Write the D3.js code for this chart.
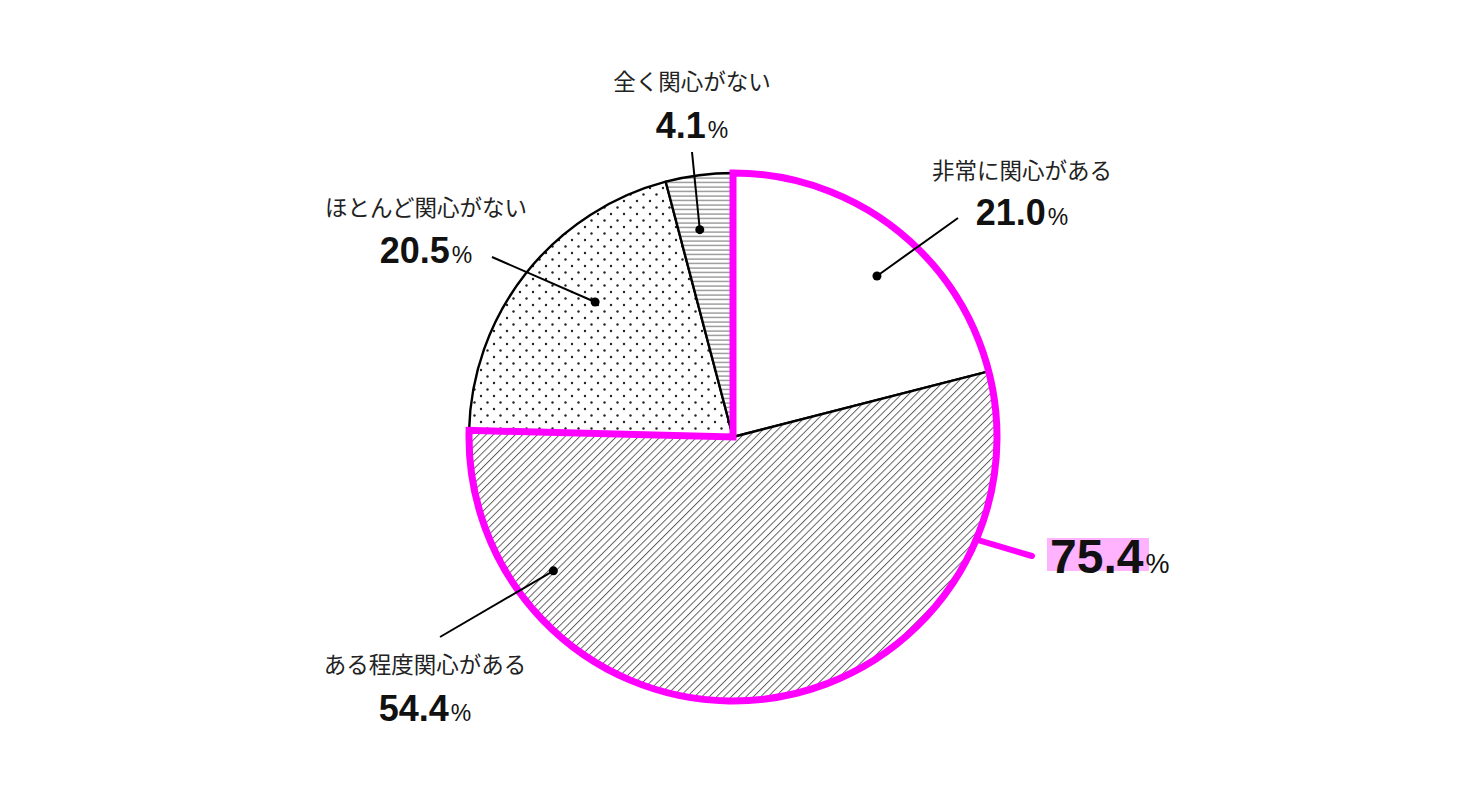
<!DOCTYPE html>
<html><head><meta charset="utf-8">
<script src="https://cdn.jsdelivr.net/npm/d3@7"></script>
<style>html,body{margin:0;padding:0;background:#fff;}</style>
</head><body>
<svg id="c" width="1480" height="796"></svg>
<script>
// ---- data ----
const categories = ["非常に関心がある", "ある程度関心がある", "ほとんど関心がない", "全く関心がない"];
const values = [21.0, 54.4, 20.5, 4.1];
const highlightLabel = "75.4"; // 非常に + ある程度
const highlightCount = 2;

// ---- layout ----
const W = 1480, H = 796;
const cx = 733, cy = 437, R = 264;
const patterns = ["none", "hatch", "dots", "hlines"];
// dot anchor (angle deg, radius) inside each slice, leader start, label center
const labelLayout = [
  {dotA: 41.8, dotR: 216, lx: 958, ly: 218, tx: 1022, ty1: 179, ty2: 225},
  {dotA: 233.3, dotR: 224, lx: 440, ly: 637, tx: 425, ty1: 673, ty2: 721},
  {dotA: 314.4, dotR: 193, lx: 492, ly: 257, tx: 426, ty1: 216, ty2: 263},
  {dotA: 350.9, dotR: 210, lx: 692, ly: 152, tx: 692, ty1: 90, ty2: 138}
];

const svg = d3.select("#c");
const defs = svg.append("defs");
// diagonal hatch
const ph = defs.append("pattern").attr("id","hatch").attr("patternUnits","userSpaceOnUse")
  .attr("width",5.2).attr("height",5.2).attr("patternTransform","rotate(45)");
ph.append("rect").attr("width",5.2).attr("height",5.2).attr("fill","#fff");
ph.append("line").attr("x1",0.5).attr("y1",0).attr("x2",0.5).attr("y2",5.2).attr("stroke","#555").attr("stroke-width",0.9);
// dots
const pd = defs.append("pattern").attr("id","dots").attr("patternUnits","userSpaceOnUse")
  .attr("width",13).attr("height",13).attr("x",cx).attr("y",cy);
pd.append("rect").attr("width",13).attr("height",13).attr("fill","#fff");
pd.append("circle").attr("cx",3).attr("cy",3).attr("r",1.2).attr("fill","#222");
pd.append("circle").attr("cx",9.5).attr("cy",9.5).attr("r",1.2).attr("fill","#222");
// horizontal lines
const pl = defs.append("pattern").attr("id","hlines").attr("patternUnits","userSpaceOnUse")
  .attr("width",10).attr("height",4.5);
pl.append("rect").attr("width",10).attr("height",4.5).attr("fill","#fff");
pl.append("line").attr("x1",0).attr("y1",2).attr("x2",10).attr("y2",2).attr("stroke","#777").attr("stroke-width",1.1);

const pie = d3.pie().sort(null).value(d => d)(values);
const arc = d3.arc().innerRadius(0).outerRadius(R);
const g = svg.append("g").attr("transform",`translate(${cx},${cy})`);

g.selectAll("path.slice").data(pie).join("path").attr("class","slice")
  .attr("d", arc)
  .attr("fill", (d,i) => patterns[i] === "none" ? "#fff" : `url(#${patterns[i]})`)
  .attr("stroke","#000").attr("stroke-width",2.4).attr("stroke-linejoin","round");

// magenta outline around combined segment
const hlEnd = pie[highlightCount-1].endAngle;
g.append("path").attr("d", d3.arc().innerRadius(0).outerRadius(R)({startAngle:0, endAngle:hlEnd}))
  .attr("fill","none").attr("stroke","#ff00ff").attr("stroke-width",7).attr("stroke-linejoin","miter");

// leaders + dots + labels
const rad = Math.PI/180;
labelLayout.forEach((L,i) => {
  const [dx, dy] = d3.pointRadial(L.dotA*rad, L.dotR);
  svg.append("line").attr("x1",L.lx).attr("y1",L.ly).attr("x2",cx+dx).attr("y2",cy+dy)
    .attr("stroke","#000").attr("stroke-width",2);
  svg.append("circle").attr("cx",cx+dx).attr("cy",cy+dy).attr("r",4.5).attr("fill","#000");
  svg.append("text").attr("x",L.tx).attr("y",L.ty1).attr("text-anchor","middle")
    .attr("font-family","'Noto Sans CJK JP', sans-serif").attr("font-size",22.5).attr("fill","#222")
    .text(categories[i]);
  const t = svg.append("text").attr("x",L.tx).attr("y",L.ty2).attr("text-anchor","middle")
    .attr("font-family","'Liberation Sans', Arial, sans-serif").attr("fill","#111");
  t.append("tspan").attr("font-size",36).attr("font-weight","bold").text(values[i].toFixed(1));
  t.append("tspan").attr("font-size",23).attr("dx",2).text("%");
});

// highlight leader
const hA = 112.8*rad;
const [hx, hy] = d3.pointRadial(hA, R+3);
svg.append("line").attr("x1",cx+hx).attr("y1",cy+hy).attr("x2",1032).attr("y2",556)
  .attr("stroke","#ff00ff").attr("stroke-width",6).attr("stroke-linecap","round");
svg.append("rect").attr("x",1047).attr("y",538).attr("width",102).attr("height",33).attr("fill","#ffb3ff");
const ht = svg.append("text").attr("x",1050).attr("y",573)
  .attr("font-family","'Liberation Sans', Arial, sans-serif").attr("fill","#111");
ht.append("tspan").attr("font-size",48).attr("font-weight","bold").text(highlightLabel);
ht.append("tspan").attr("font-size",27).attr("dx",2).text("%");
</script>
</body></html>
